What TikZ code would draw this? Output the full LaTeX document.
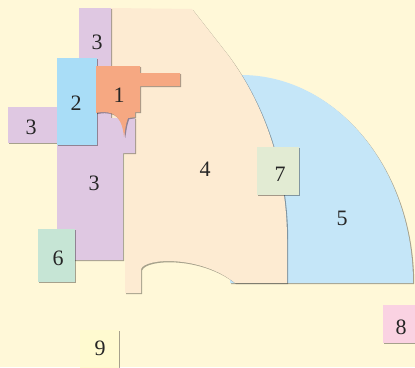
\documentclass[tikz,border=0pt]{standalone}
\usepackage{fontspec}
\setmainfont{Liberation Serif}
\usetikzlibrary{shadows}
\definecolor{bgc}{HTML}{FFF8D8}
\definecolor{purp}{HTML}{DFC8E2}
\definecolor{bluetwo}{HTML}{A9DDF7}
\definecolor{orng}{HTML}{F6A882}
\definecolor{peach}{HTML}{FDEBD2}
\definecolor{bluefive}{HTML}{C5E6F8}
\definecolor{grsev}{HTML}{E2EBD3}
\definecolor{grsix}{HTML}{C6E5D5}
\definecolor{pnk}{HTML}{FAD2E2}
\definecolor{ylw}{HTML}{FFFAD0}
\tikzset{
  region/.style={drop shadow={shadow xshift=1.2pt,shadow yshift=-1.2pt,fill=black,opacity=.35}},
  lbl/.style={font=\fontsize{22}{24}\selectfont, text=black!85, inner sep=0pt}
}
\begin{document}
\begin{tikzpicture}[x=1pt,y=-1pt]
\useasboundingbox (0,0) rectangle (415,367);
\fill[bgc] (0,0) rectangle (415,367);
% region 5
\fill[bluefive,region] (241,75) arc[start angle=-90,end angle=0,x radius=172,y radius=208] -- (230,283) -- cycle;
% region 4
\fill[peach,region] (111,8) -- (192,9) -- (228,55) .. controls (265,105) and (287,170) .. (287,240) -- (287,283) -- (235,283)
  .. controls (200,255) and (145,258) .. (141,269) -- (141,293) -- (125,293) -- (125,150) -- (111,150) -- cycle;
% region 3
\fill[purp,region] (79,8) -- (111,8) -- (111,118) -- (135,118) -- (135,153) -- (123,153) -- (123,260) -- (57,260) -- (57,140) -- (79,140) -- cycle;
\fill[purp,region] (8,107) rectangle (57,143);
% region 2
\fill[bluetwo,region] (57,58) rectangle (97,145);
% region 1
\fill[orng,region] (96,66) -- (140,66) -- (140,73) -- (180,73) -- (180,86) -- (140,86) -- (140,112) -- (135,112) -- (135,117) -- (128,118)
  .. controls (126,124) .. (124,137) .. controls (123,126) and (120,118) .. (113,114) .. controls (106,111) and (100,112) .. (96,113) -- cycle;
% boxes
\fill[grsix,region] (38,229) rectangle (75,282);
\fill[grsev,region] (257,147) rectangle (299,195);
\fill[pnk,region] (383,305) rectangle (416,343);
\fill[ylw,region] (80,330) rectangle (119,368);
% labels
\node[lbl] (l1) at (119,95) {1};
\node[lbl] (l2) at (76,103) {2};
\node[lbl] (l3a) at (97,42) {3};
\node[lbl] (l3b) at (31,127) {3};
\node[lbl] (l3c) at (94,183) {3};
\node[lbl] (l4) at (205,169) {4};
\node[lbl] (l5) at (342,218) {5};
\node[lbl] (l6) at (58,258) {6};
\node[lbl] (l7) at (280,174) {7};
\node[lbl] (l8) at (401,327) {8};
\node[lbl] (l9) at (100,348) {9};
\end{tikzpicture}
\end{document}
